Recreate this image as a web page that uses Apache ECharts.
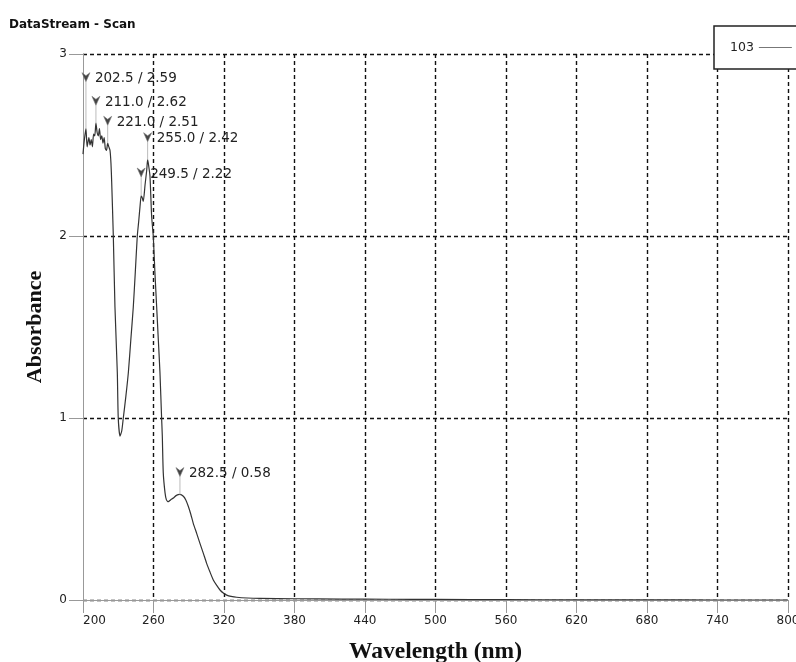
<!DOCTYPE html>
<html>
<head>
<meta charset="utf-8">
<script src="https://cdn.jsdelivr.net/npm/echarts@6/dist/echarts.min.js"></script>
<style>
html,body{margin:0;padding:0;background:#fff;}
#chart{width:796px;height:662px;}
</style>
</head>
<body>
<div id="chart"></div>
<script>
// Wavelength (nm) and absorbance
var wavelengths = [200.0,201.0,202.5,203.5,205.0,206.0,207.0,208.0,209.0,210.0,211.0,212.0,213.0,214.0,215.0,216.0,217.0,218.0,219.0,220.0,221.0,222.0,223.0,223.8,224.4,225.8,227.2,229.2,230.0,231.5,233.0,234.3,236.5,238.6,240.7,242.8,244.5,246.2,247.4,248.5,249.5,250.4,251.3,252.8,254.2,255.0,255.8,257.0,258.4,259.8,261.2,262.7,264.1,265.5,266.9,267.5,268.3,269.8,271.0,272.6,274.5,276.9,279.5,282.5,285.4,287.5,289.6,291.8,293.9,296.8,299.6,302.5,305.3,308.0,310.9,313.8,316.6,319.4,322.3,326.0,330.8,340.0,350.6,380.0,420.0,460.0,500.0,560.0,620.0,680.0,740.0,800.0];
var absorbance  = [2.45,2.52,2.59,2.49,2.54,2.50,2.53,2.49,2.56,2.55,2.62,2.57,2.55,2.59,2.53,2.55,2.51,2.54,2.48,2.47,2.51,2.49,2.47,2.40,2.30,2.00,1.61,1.25,1.00,0.90,0.93,1.00,1.12,1.25,1.43,1.61,1.80,2.00,2.08,2.16,2.22,2.21,2.19,2.28,2.36,2.42,2.39,2.33,2.11,2.00,1.80,1.61,1.43,1.25,1.00,0.90,0.70,0.59,0.55,0.54,0.55,0.56,0.575,0.58,0.57,0.55,0.515,0.47,0.42,0.365,0.31,0.255,0.20,0.155,0.11,0.08,0.055,0.038,0.027,0.02,0.015,0.011,0.009,0.007,0.005,0.004,0.003,0.002,0.001,0.001,0.0,0.0];

// Peak annotations: position, value, and how far above the peak the marker sits
var peakX = [202.5, 211.0, 221.0, 255.0, 249.5, 282.5];
var peakY = [2.59, 2.62, 2.51, 2.42, 2.22, 0.58];
var peakLift = [0.28, 0.12, 0.12, 0.12, 0.126, 0.12];

var xTicks = [200, 260, 320, 380, 440, 500, 560, 620, 680, 740, 800];
var yTicks = [0, 1, 2, 3];
var seriesName = '103';

var lineData = wavelengths.map(function (w, i) { return [w, absorbance[i]]; });
var peakData = peakX.map(function (x, i) { return [x, peakY[i], peakLift[i]]; });

var chart = echarts.init(document.getElementById('chart'), null, {renderer: 'canvas'});

var gridDash = {color: '#111', type: [4, 3], width: 1.4};

chart.setOption({
  animation: false,
  backgroundColor: '#fff',
  title: {
    text: 'DataStream - Scan',
    left: 4, top: 14,
    textStyle: {fontFamily: 'DejaVu Sans', fontWeight: 'bold', fontSize: 12, color: '#111'}
  },
  legend: {
    left: 714, top: 26, z: 10,
    data: [{name: seriesName, icon: 'rect'}],
    align: 'right',
    itemWidth: 33, itemHeight: 1,
    padding: [15, 40, 15, 16],
    backgroundColor: '#fff',
    borderColor: '#222', borderWidth: 1.5,
    itemStyle: {color: '#777'},
    textStyle: {fontFamily: 'DejaVu Sans', fontSize: 12.5, color: '#222'}
  },
  grid: {left: 83, right: 8, top: 54, bottom: 62, containLabel: false, outerBoundsMode: 'none'},
  xAxis: {
    type: 'value',
    min: xTicks[0], max: xTicks[xTicks.length - 1], interval: 60,
    name: 'Wavelength (nm)',
    nameLocation: 'middle', nameGap: 40,
    nameTextStyle: {fontFamily: 'Liberation Serif', fontWeight: 'bold', fontSize: 23.5, color: '#111'},
    axisLine: {show: true, onZero: false, lineStyle: {color: '#999', width: 1}},
    axisTick: {show: true, length: 13, lineStyle: {color: '#999'}},
    axisLabel: {margin: 15, fontFamily: 'DejaVu Sans', fontSize: 12, color: '#222', alignMinLabel: 'left'},
    splitLine: {show: true, showMinLine: false, lineStyle: gridDash}
  },
  yAxis: {
    type: 'value',
    min: yTicks[0], max: yTicks[yTicks.length - 1], interval: 1,
    name: 'Absorbance',
    nameLocation: 'middle', nameGap: 37,
    nameTextStyle: {fontFamily: 'Liberation Serif', fontWeight: 'bold', fontSize: 22, color: '#111'},
    axisLine: {show: true, lineStyle: {color: '#999', width: 1}},
    axisTick: {show: true, length: 14, lineStyle: {color: '#999'}},
    axisLabel: {margin: 16, fontFamily: 'DejaVu Sans', fontSize: 12, color: '#222'},
    splitLine: {show: true, lineStyle: gridDash}
  },
  series: [
    {
      name: seriesName,
      type: 'line',
      data: lineData,
      symbol: 'none',
      smooth: 0.2,
      lineStyle: {color: '#333', width: 1.2},
      itemStyle: {color: '#333'},
      z: 3
    },
    {
      type: 'custom',
      data: peakData,
      clip: false,
      z: 4,
      silent: true,
      renderItem: function (params, api) {
        var x = api.value(0), y = api.value(1), lift = api.value(2);
        var p0 = api.coord([x, y]);
        var p1 = api.coord([x, y + lift]);
        var label = x.toFixed(1) + ' / ' + y.toFixed(2);
        return {
          type: 'group',
          children: [
            {type: 'line', shape: {x1: p1[0], y1: p1[1] + 4, x2: p0[0], y2: p0[1]},
             style: {stroke: '#bbb', lineWidth: 1}},
            {type: 'polygon', shape: {points: [[p1[0] - 4, p1[1] - 5], [p1[0], p1[1] - 2], [p1[0] + 4, p1[1] - 5], [p1[0], p1[1] + 4]]},
             style: {fill: '#444', stroke: '#777', lineWidth: 0.6}},
            {type: 'text', x: p1[0] + 9, y: p1[1] + 1,
             style: {text: label, fill: '#222', font: '13.5px "DejaVu Sans"', textAlign: 'left', textVerticalAlign: 'middle'}}
          ]
        };
      }
    }
  ]
});
</script>
</body>
</html>
